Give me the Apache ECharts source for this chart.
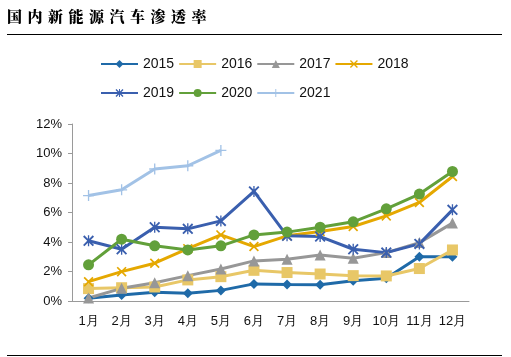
<!DOCTYPE html>
<html><head><meta charset="utf-8">
<script src="https://cdn.jsdelivr.net/npm/echarts@6/dist/echarts.min.js"></script>
<style>
html,body{margin:0;padding:0;background:#fff;}
#wrap{position:relative;width:511px;height:357px;}
#chart{position:absolute;left:0;top:0;width:511px;height:357px;}
#title{position:absolute;left:7px;top:5px;font-family:"Noto Serif CJK SC","Noto Sans CJK SC",serif;font-weight:900;font-size:15px;letter-spacing:5.5px;color:#000;z-index:2;}
</style>
</head><body>
<div id="wrap"><div id="chart"></div><div id="title">国内新能源汽车渗透率</div></div>
<script>
const months = ['1月','2月','3月','4月','5月','6月','7月','8月','9月','10月','11月','12月'];
const yTicks = [0, 2, 4, 6, 8, 10, 12];
const s2015 = [0.18, 0.40, 0.60, 0.52, 0.72, 1.16, 1.12, 1.10, 1.38, 1.54, 3.00, 3.00];
const s2016 = [0.84, 0.90, 0.95, 1.43, 1.65, 2.08, 1.93, 1.83, 1.72, 1.70, 2.20, 3.46];
const s2017 = [0.20, 0.86, 1.24, 1.72, 2.17, 2.72, 2.83, 3.12, 2.90, 3.28, 3.96, 5.28];
const s2018 = [1.31, 1.99, 2.56, 3.55, 4.48, 3.69, 4.42, 4.71, 5.05, 5.77, 6.68, 8.44];
const s2019 = [4.08, 3.51, 5.00, 4.89, 5.43, 7.43, 4.42, 4.37, 3.51, 3.28, 3.87, 6.18];
const s2020 = [2.45, 4.19, 3.74, 3.46, 3.74, 4.48, 4.67, 5.00, 5.37, 6.25, 7.25, 8.78];
const s2021 = [7.15, 7.54, 8.95, 9.17, 10.21];

const X_SYM = 'path://M0,1.2L1.2,0L5,3.8L8.8,0L10,1.2L6.2,5L10,8.8L8.8,10L5,6.2L1.2,10L0,8.8L3.8,5Z';
const AST_SYM = 'path://M0,1.2L1.2,0L5,3.8L8.8,0L10,1.2L6.2,5L10,8.8L8.8,10L5,6.2L1.2,10L0,8.8L3.8,5Z M4.4,0L5.6,0L5.6,10L4.4,10Z';
const PLUS_SYM = 'path://M4.4,0L5.6,0L5.6,4.4L10,4.4L10,5.6L5.6,5.6L5.6,10L4.4,10L4.4,5.6L0,5.6L0,4.4L4.4,4.4Z';

function mk(name, data, color, symbol, size) {
  return {
    name: name, type: 'line', data: data, symbol: symbol, symbolSize: size,
    showAllSymbol: true,
    lineStyle: {color: color, width: 3},
    itemStyle: {color: color},
    emphasis: {disabled: true}, animation: false
  };
}

const chart = echarts.init(document.getElementById('chart'), null, {renderer: 'canvas'});
const legendText = {fontFamily: 'Liberation Sans, Arial, sans-serif', fontSize: 14, color: '#111'};
chart.setOption({
  animation: false,
  backgroundColor: '#fff',
  legend: [
    {data: ['2015','2016','2017','2018'], left: 100, top: 57, itemWidth: 37, itemHeight: 10, itemGap: 4, textStyle: legendText, padding: 0},
    {data: ['2019','2020','2021'], left: 100, top: 86, itemWidth: 37, itemHeight: 10, itemGap: 4, textStyle: legendText, padding: 0}
  ],
  grid: {left: 72, right: 42, top: 124, bottom: 56},
  xAxis: {
    type: 'category', data: months, boundaryGap: true,
    axisLine: {lineStyle: {color: '#9a9a9a', width: 1}},
    axisTick: {show: false},
    axisLabel: {color: '#111', fontSize: 13, fontFamily: 'Liberation Sans, Arial, sans-serif', margin: 14, interval: 0}
  },
  yAxis: {
    type: 'value', min: yTicks[0], max: yTicks[yTicks.length-1], interval: 2,
    axisLine: {show: true, lineStyle: {color: '#9a9a9a', width: 1}},
    axisTick: {show: true, length: 4, lineStyle: {color: '#9a9a9a'}},
    splitLine: {show: false},
    axisLabel: {color: '#111', fontSize: 13, fontFamily: 'Liberation Sans, Arial, sans-serif', margin: 10, formatter: '{value}%'}
  },
  series: [
    mk('2015', s2015, '#1f6aa8', 'diamond', 10),
    mk('2016', s2016, '#e8c767', 'rect', 11),
    mk('2017', s2017, '#979797', 'triangle', 11),
    mk('2018', s2018, '#e5a800', X_SYM, 10),
    mk('2019', s2019, '#3a5fae', AST_SYM, 11),
    mk('2020', s2020, '#62a03a', 'circle', 11),
    mk('2021', s2021, '#a2c2e6', PLUS_SYM, 11)
  ],
  graphic: [
    {type: 'line', shape: {x1: 7, y1: 34.5, x2: 502, y2: 34.5}, style: {stroke: '#000', lineWidth: 1}},
    {type: 'line', shape: {x1: 7, y1: 355.5, x2: 502, y2: 355.5}, style: {stroke: '#000', lineWidth: 1}}
  ]
});
</script>
</body></html>
